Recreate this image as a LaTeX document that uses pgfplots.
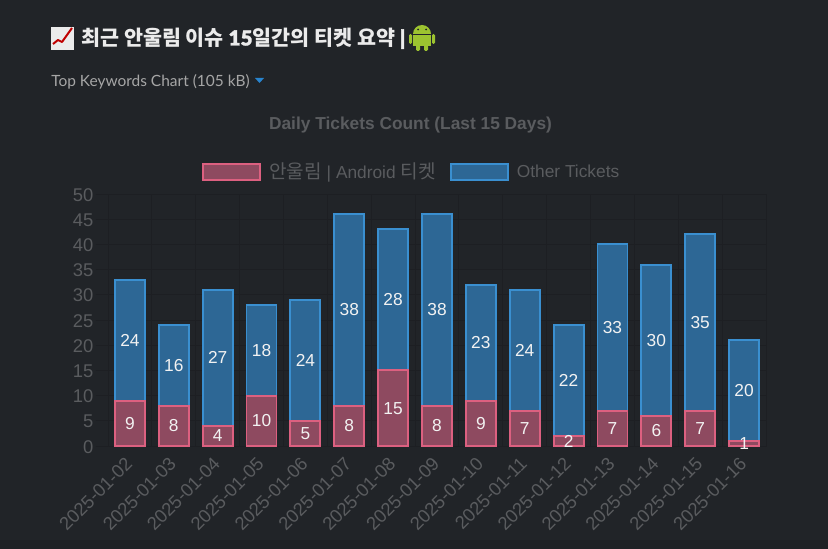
\documentclass[border=0pt]{standalone}
\usepackage{fontspec}
\usepackage{pgfplots}
\usepackage{pgfplotstable}
\pgfplotsset{compat=1.18}
\setmainfont{Liberation Sans}
\newfontfamily\cjk{Noto Sans CJK KR}
\newfontfamily\lato{Lato}
\newfontfamily\latob[FakeBold=1.5]{Lato Bold}
\definecolor{bgc}{HTML}{212428}
\definecolor{bandc}{HTML}{1E2024}
\definecolor{gridc}{HTML}{1D1F23}
\definecolor{tickc}{HTML}{5A5C5F}
\definecolor{redfill}{HTML}{8E4A60}
\definecolor{redline}{HTML}{DC6080}
\definecolor{bluefill}{HTML}{2D6795}
\definecolor{blueline}{HTML}{3A8FD0}
\definecolor{droid}{HTML}{9CC330}

\pgfplotstableread{
x android other
0 9 24
1 8 16
2 4 27
3 10 18
4 5 24
5 8 38
6 15 28
7 8 38
8 9 23
9 7 24
10 2 22
11 7 33
12 6 30
13 7 35
14 1 20
}\tickets

% label positions: middle of each bar segment
\pgfplotstableread{
x y label
0 4.5 9
1 4 8
2 2 4
3 5 10
4 2.5 5
5 4 8
6 7.5 15
7 4 8
8 4.5 9
9 3.5 7
10 1 2
11 3.5 7
12 3 6
13 3.5 7
14 0.5 1
0 21 24
1 16 16
2 17.5 27
3 19 18
4 17 24
5 27 38
6 29 28
7 27 38
8 20.5 23
9 19 24
10 13 22
11 23.5 33
12 21 30
13 24.5 35
14 11 20
}\labels

\begin{document}
\begin{tikzpicture}
\begin{scope}[x=0.75pt,y=-0.75pt]
\useasboundingbox (0,0) rectangle (828,549);
\fill[bgc] (0,0) rectangle (828,549);
\fill[bandc] (0,540) rectangle (828,549);

% header
\fill[white!92!black] (51,27) rectangle (74,50);
\draw[red!75!black,line width=1.5pt,line join=round] (53,44) -- (58,40) -- (62,42) -- (72,28);
\node[anchor=west,inner sep=0pt,text=white!92!black,font=\fontsize{15.5pt}{18pt}\selectfont\bfseries\cjk] at (81,38.5) {최근 안울림 이슈 {\latob 15}일간의 티켓 요약 {\latob |}};
\fill[droid] (413,34) arc[start angle=180,end angle=360,radius=9] -- cycle;
\fill[droid] (413,35) rectangle (431,46);
\fill[droid,rounded corners=1pt] (409,34) rectangle (412,44);
\fill[droid,rounded corners=1pt] (432,34) rectangle (435,44);
\fill[droid,rounded corners=1pt] (416,45) rectangle (420,51);
\fill[droid,rounded corners=1pt] (424,45) rectangle (428,51);
\fill[bgc] (418,29.5) circle[radius=1];
\fill[bgc] (426,29.5) circle[radius=1];
\node[anchor=west,inner sep=0pt,text=white!65!black,font=\fontsize{11.6pt}{14pt}\selectfont\lato] at (51,82) {Top Keywords Chart (105 kB)};
\fill[cyan!60!blue!90!white] (255,78) -- (264,78) -- (259.5,83) -- cycle;

\node[text=tickc,font=\fontsize{13pt}{15pt}\selectfont\bfseries] at (410.5,125) {Daily Tickets Count (Last 15 Days)};
\end{scope}

\begin{axis}[
  at={(81pt,-334.5pt)},anchor=south west,
  scale only axis,width=493.5pt,height=189pt,
  ybar stacked,bar width=22.5pt,
  xmin=-0.5,xmax=14.5,ymin=0,ymax=50,
  xtick={0,...,14},
  xticklabels={2025-01-02,2025-01-03,2025-01-04,2025-01-05,2025-01-06,2025-01-07,2025-01-08,2025-01-09,2025-01-10,2025-01-11,2025-01-12,2025-01-13,2025-01-14,2025-01-15,2025-01-16},
  xticklabel style={rotate=45,anchor=north east,xshift=1.5pt,yshift=7.5pt},
  yticklabel style={xshift=1.5pt,yshift=-0.5pt},
  ytick={0,5,...,50},
  xtick pos=bottom,ytick pos=left,
  tick align=outside,major tick length=9pt,
  xtick style={draw=none},
  ytick style={draw=gridc,line width=0.75pt},
  extra x ticks={-0.5,0.5,...,14.5},
  extra x tick labels={},
  extra x tick style={grid=major,tick style={draw=gridc,line width=0.75pt}},
  ymajorgrids=true,
  grid style={draw=gridc,line width=0.75pt},
  axis line style={draw=gridc,line width=0.75pt},
  tick label style={text=tickc,font=\fontsize{13.8pt}{15pt}\selectfont},
  /pgf/number format/assume math mode=true,
  legend columns=2,
  legend style={at={(0.462,1.087)},anchor=center,draw=none,fill=none,
    text=tickc,font=\fontsize{13pt}{15pt}\selectfont,
    /tikz/every even column/.append style={column sep=8.5pt}},
  legend image code/.code={\draw[#1,line width=1.4pt] (0pt,-6pt) rectangle (43pt,6pt); \path (47pt,0pt);},
]
\addplot[fill=redfill,draw=redline,line width=1.4pt] table[x=x,y=android] {\tickets};
\addlegendentry{{\fontsize{14.3pt}{15pt}\selectfont\cjk 안울림} | Android {\fontsize{14.3pt}{15pt}\selectfont\cjk 티켓}}
\addplot[fill=bluefill,draw=blueline,line width=1.4pt] table[x=x,y=other] {\tickets};
\addlegendentry{Other Tickets}
\end{axis}

\begin{axis}[
  at={(81pt,-334.5pt)},anchor=south west,
  scale only axis,width=493.5pt,height=189pt,
  xmin=-0.5,xmax=14.5,ymin=0,ymax=50,
  hide axis,clip=false,
]
\addplot[only marks,mark=none,point meta=explicit symbolic,nodes near coords,
  nodes near coords align=center,
  every node near coord/.append style={text=white!95!black,inner sep=0pt,font=\fontsize{13pt}{15pt}\selectfont}]
  table[x=x,y=y,meta=label] {\labels};
\end{axis}
\end{tikzpicture}
\end{document}
